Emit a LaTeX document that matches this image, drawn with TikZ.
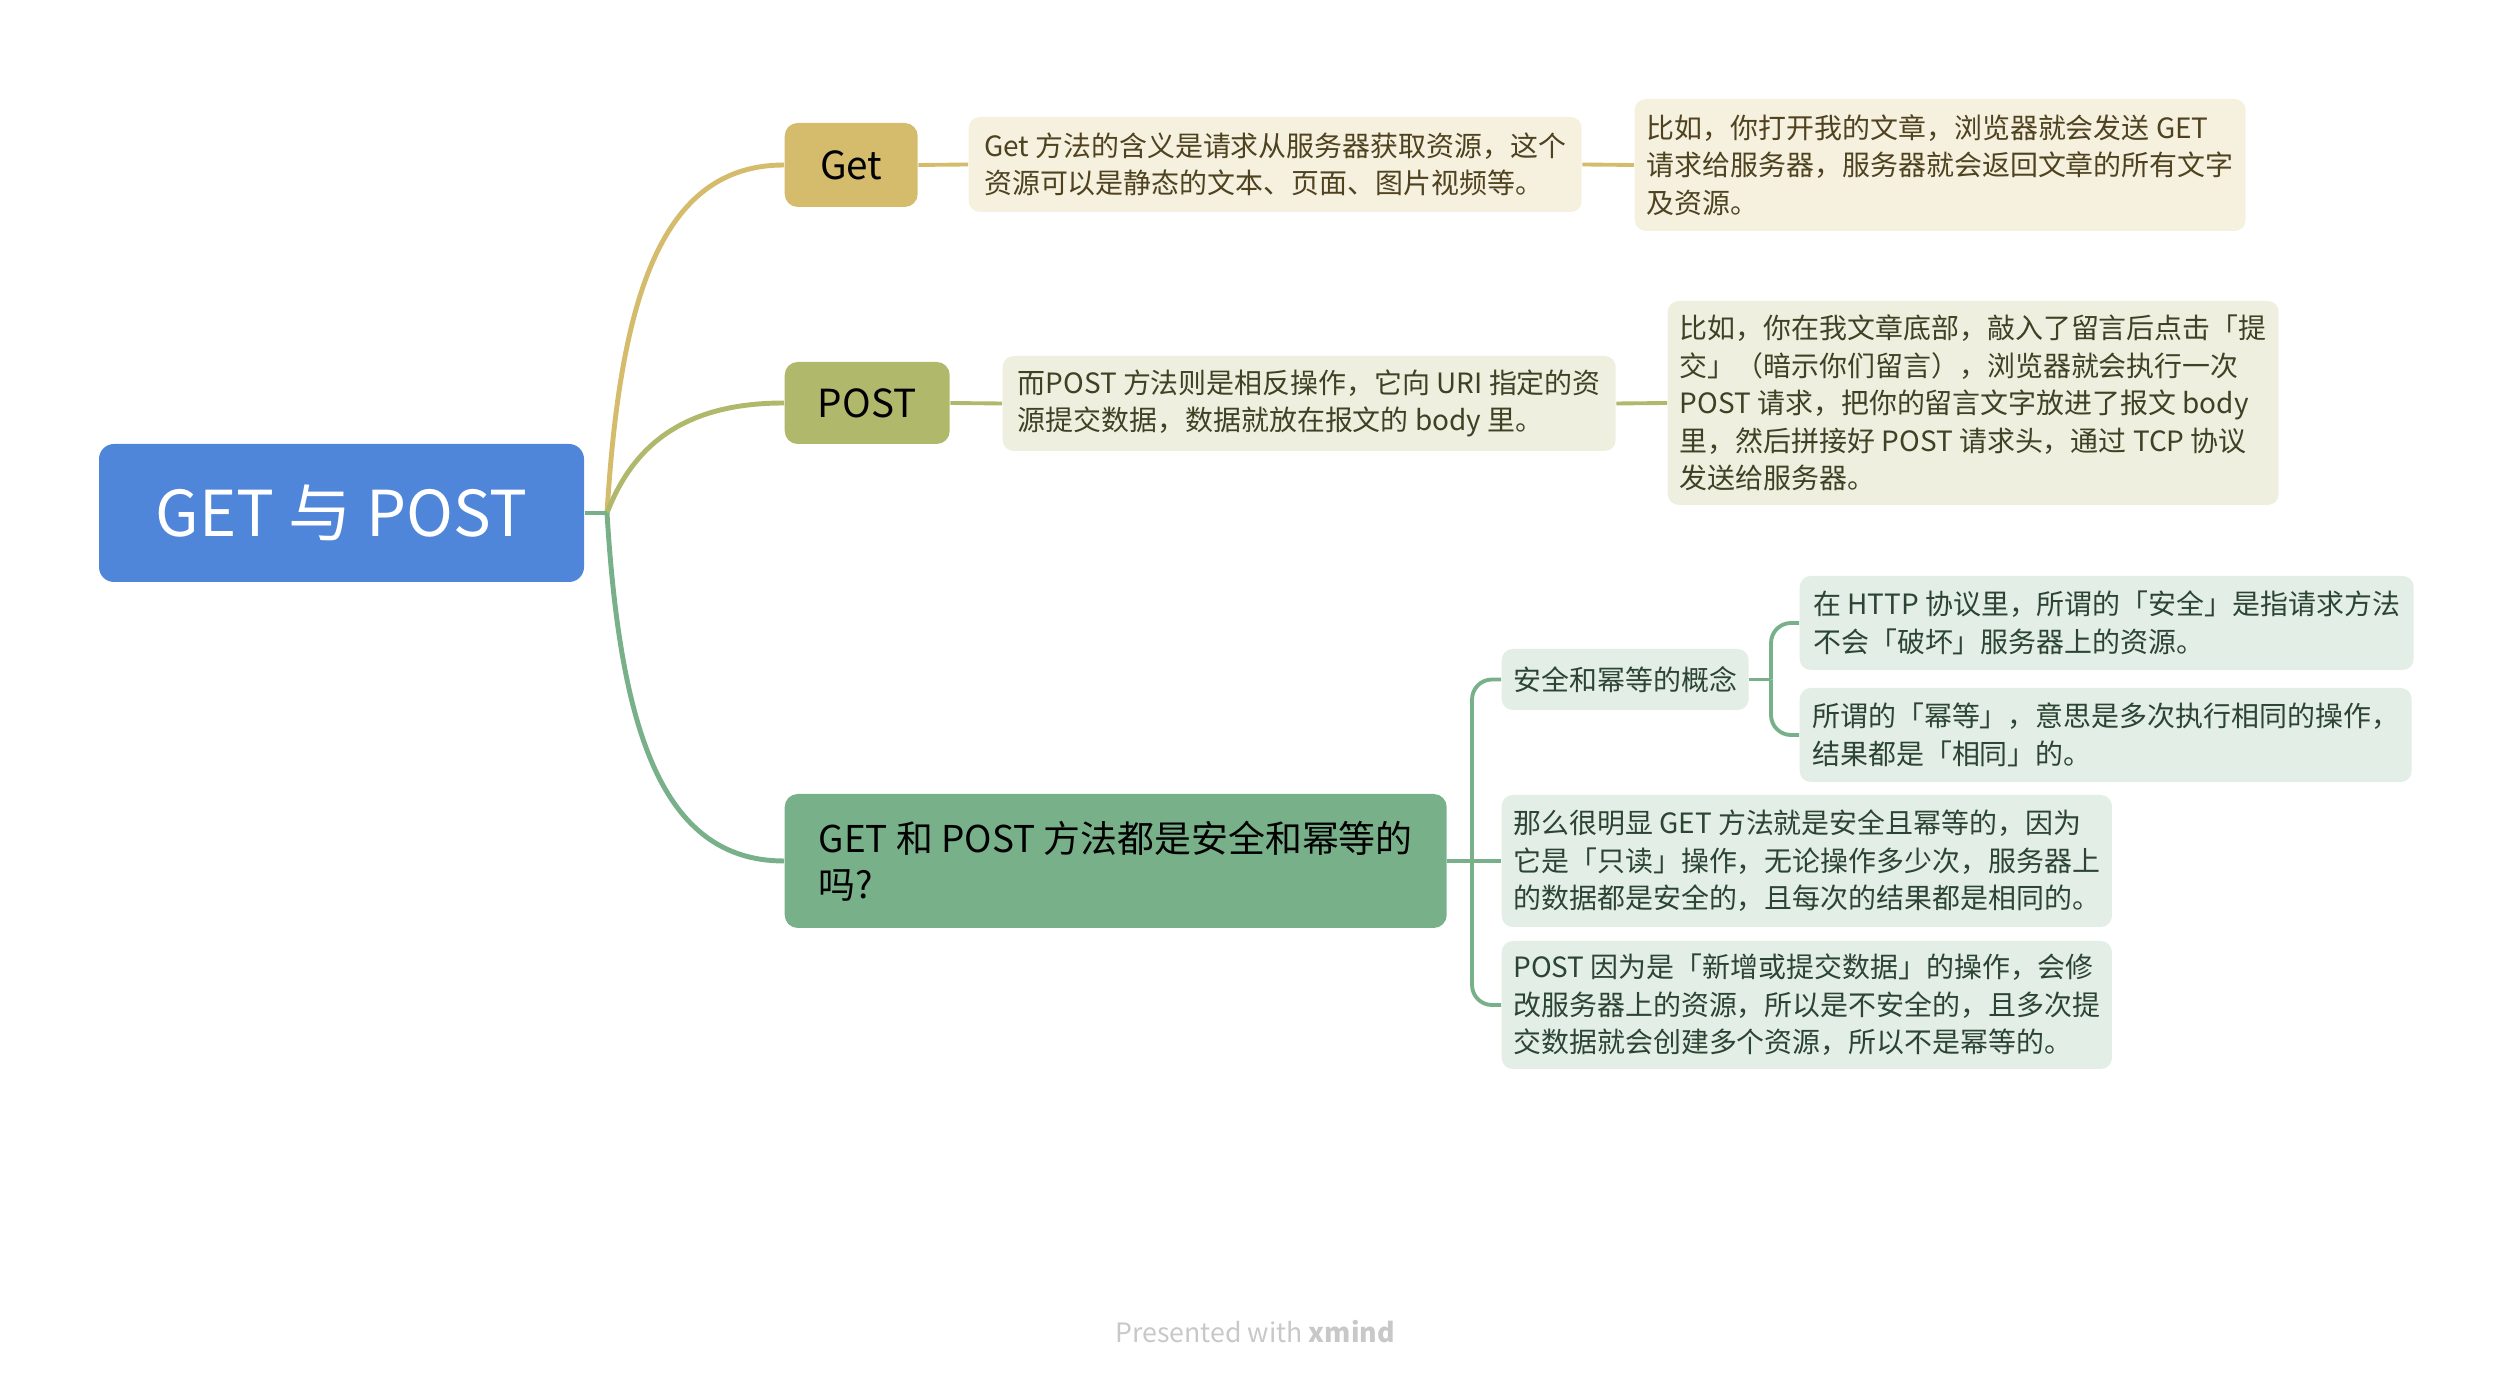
\documentclass[tikz,border=0pt]{standalone}
\usepackage{fontspec}
\setmainfont{Noto Sans CJK SC}
\usepackage{tikz}
\usetikzlibrary{positioning, calc}

\definecolor{rootblue}{RGB}{79,134,218}
\definecolor{getgold}{RGB}{212,188,108}
\definecolor{getcream}{RGB}{246,241,222}
\definecolor{gettext}{RGB}{78,66,32}
\definecolor{postolive}{RGB}{176,184,108}
\definecolor{postcream}{RGB}{239,239,224}
\definecolor{posttext}{RGB}{62,66,36}
\definecolor{qgreen}{RGB}{120,176,138}
\definecolor{qleaf}{RGB}{227,238,230}
\definecolor{qtext}{RGB}{44,68,52}
\definecolor{footgray}{RGB}{200,200,200}

\tikzset{
  topic/.style  = {rounded corners=0.13cm, align=center,
                   font=\fontsize{11}{13}\selectfont, text=black},
  leaf/.style   = {rounded corners=0.11cm, align=left, anchor=west,
                   font=\fontsize{7.95}{10.7}\selectfont},
  mainln/.style = {line width=1.4pt},
  subln/.style  = {line width=1.1pt, rounded corners=0.2cm}
}

\begin{document}
\begin{tikzpicture}[
    getleaf/.style={leaf, fill=getcream, text=gettext},
    postleaf/.style={leaf, fill=postcream, text=posttext},
    qleafbox/.style={leaf, fill=qleaf, text=qtext}
  ]
    \useasboundingbox (0,0) rectangle (25.14,-13.84);

    % Root
    \node[topic, fill=rootblue, text=white, rounded corners=0.15cm,
          minimum width=4.85cm, minimum height=1.38cm,
          font=\fontsize{18}{20}\selectfont](root) at (3.415,-5.13) {GET 与 POST};
    \coordinate (hub) at (6.07,-5.13);

    % Get branch
    \node[topic, fill=getgold, anchor=west, minimum width=1.33cm,
          minimum height=0.84cm](get) at (7.84,-1.65) {Get};
    \node[getleaf, minimum width=6.13cm, minimum height=0.95cm](getd) at (9.68,-1.645)
      {Get 方法的含义是请求从服务器获取资源，这个\\资源可以是静态的文本、页面、图片视频等。};
    \node[getleaf, minimum width=6.11cm, minimum height=1.32cm](getx) at (16.34,-1.65)
      {比如，你打开我的文章，浏览器就会发送 GET\\请求给服务器，服务器就会返回文章的所有文字\\及资源。};

    % POST branch
    \node[topic, fill=postolive, anchor=west, minimum width=1.65cm,
          minimum height=0.82cm](post) at (7.84,-4.03) {POST};
    \node[postleaf, minimum width=6.13cm, minimum height=0.95cm](postd) at (10.02,-4.035)
      {而POST 方法则是相反操作，它向 URI 指定的资\\源提交数据，数据就放在报文的 body 里。};
    \node[postleaf, minimum width=6.11cm, minimum height=2.04cm](postx) at (16.67,-4.03)
      {比如，你在我文章底部，敲入了留言后点击「提\\交」（暗示你们留言），浏览器就会执行一次\\POST 请求，把你的留言文字放进了报文 body\\里，然后拼接好 POST 请求头，通过 TCP 协议\\发送给服务器。};

    % Safe / idempotent branch
    \node[topic, fill=qgreen, anchor=west, align=left, minimum width=6.62cm,
          minimum height=1.34cm, font=\fontsize{10.5}{13.2}\selectfont](q) at (7.84,-8.61)
      {GET 和 POST 方法都是安全和幂等的\\吗?};
    \coordinate (qhub) at (14.72,-8.61);
    \node[qleafbox, minimum width=2.45cm, minimum height=0.61cm](safe) at (15.01,-6.795)
      {安全和幂等的概念};
    \coordinate (shub) at (17.71,-6.795);
    \node[qleafbox, minimum width=6.14cm, minimum height=0.94cm](safea) at (17.99,-6.23)
      {在 HTTP 协议里，所谓的「安全」是指请求方法\\不会「破坏」服务器上的资源。};
    \node[qleafbox, minimum width=6.12cm, minimum height=0.94cm](safeb) at (17.99,-7.35)
      {所谓的「幂等」，意思是多次执行相同的操作，\\结果都是「相同」的。};
    \node[qleafbox, minimum width=6.09cm, minimum height=1.32cm](getok) at (15.01,-8.61)
      {那么很明显 GET 方法就是安全且幂等的，因为\\它是「只读」操作，无论操作多少次，服务器上\\的数据都是安全的，且每次的结果都是相同的。};
    \node[qleafbox, minimum width=6.09cm, minimum height=1.28cm](postno) at (15.01,-10.05)
      {POST 因为是「新增或提交数据」的操作，会修\\改服务器上的资源，所以是不安全的，且多次提\\交数据就会创建多个资源，所以不是幂等的。};

    % Connectors
    \draw[mainln, getgold] (hub) .. controls (6.2,-3.0) and (6.6,-1.65) .. (get.west);
    \draw[mainln, postolive] (hub) .. controls (6.35,-4.4) and (6.9,-4.03) .. (post.west);
    \draw[mainln, qgreen] (hub) .. controls (6.2,-7.26) and (6.6,-8.61) .. (q.west);
    \draw[mainln, qgreen] (root.east) -- (hub);

    \draw[subln, getgold] (get.east) -- (getd.west);
    \draw[subln, getgold] (getd.east) -- (getx.west);
    \draw[subln, postolive] (post.east) -- (postd.west);
    \draw[subln, postolive] (postd.east) -- (postx.west);

    \draw[subln, qgreen] (q.east) -- (qhub) -- (getok.west);
    \draw[subln, qgreen] (qhub) |- (safe.west);
    \draw[subln, qgreen] (qhub) |- (postno.west);
    \draw[subln, qgreen] (safe.east) -- (shub);
    \draw[subln, qgreen] (shub) |- (safea.west);
    \draw[subln, qgreen] (shub) |- (safeb.west);

    \node[text=footgray, font=\fontsize{7.6}{9}\selectfont](foot) at (12.55,-13.32)
      {Presented with \textbf{xmind}};
  \end{tikzpicture}
\end{document}
